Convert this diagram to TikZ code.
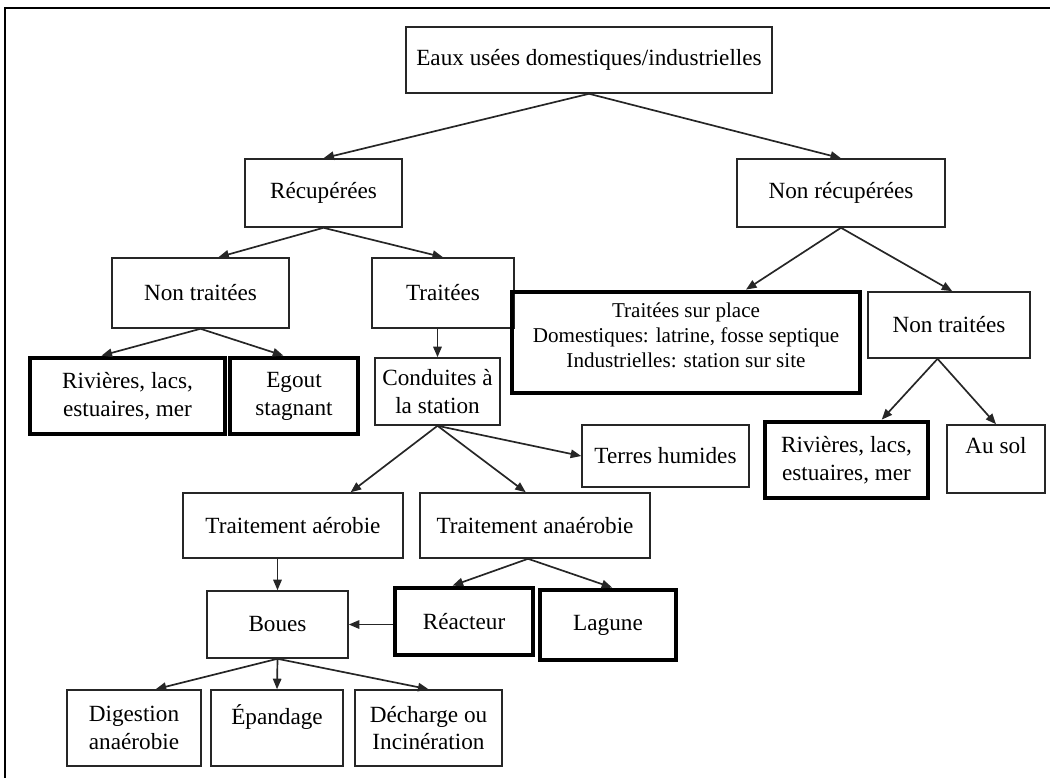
\documentclass[tikz,border=0pt]{standalone}
\usepackage{fontspec}
\setmainfont{Liberation Serif}
\usetikzlibrary{arrows.meta,calc}
\begin{document}
\begin{tikzpicture}[x=0.025cm,y=-0.025cm,
  box/.style={draw=black!85, line width=1.1pt, inner sep=0pt, align=center,
    font=\fontsize{16.5}{19.8}\selectfont, text=black},
  heavy/.style={box, draw=black, line width=3.4pt},
  link/.style={draw=black!85, line width=1.2pt, -{Triangle[length=7.5pt,width=6pt]}},
  frame/.style={draw=black, line width=1.4pt}]
\useasboundingbox (0,0) rectangle (1050,778);
% outer frame
\draw[frame] (1050,8) -- (5,8) -- (5,778);

% first level
\node[box, minimum width=9.15cm, minimum height=1.65cm] (top) at (589,60) {Eaux usées domestiques/industrielles};
\node[box, minimum width=3.925cm, minimum height=1.7cm] (recup) at (323.5,193) {Récupérées};
\node[box, minimum width=5.2cm, minimum height=1.7cm] (nonrecup) at (841,193) {Non récupérées};

% recovered branch
\node[box, minimum width=4.425cm, minimum height=1.75cm] (ntL) at (200.5,293) {Non traitées};
\node[box, minimum width=3.55cm, minimum height=1.75cm] (traitees) at (443,293) {Traitées};
\node[heavy, minimum width=4.875cm, minimum height=1.9cm] (rivL) at (127.5,396) {Rivières, lacs,\\estuaires, mer};
\node[heavy, minimum width=3.2cm, minimum height=1.9cm] (egout) at (294,396) {Egout\\stagnant};
\node[box, minimum width=3.125cm, minimum height=1.675cm] (conduites) at (437.5,391.5) {Conduites à\\la station};
\node[box, minimum width=4.175cm, minimum height=1.55cm] (terres) at (665.5,456) {Terres humides};
\node[box, minimum width=5.5cm, minimum height=1.625cm] (aer) at (293,525.5) {Traitement aérobie};
\node[box, minimum width=5.75cm, minimum height=1.625cm] (anaer) at (535,525.5) {Traitement anaérobie};
\node[box, minimum width=3.525cm, minimum height=1.675cm] (boues) at (277.5,624.5) {Boues};
\node[heavy, minimum width=3.45cm, minimum height=1.675cm] (reacteur) at (464,621.5) {Réacteur};
\node[heavy, minimum width=3.4cm, minimum height=1.75cm] (lagune) at (608,625) {Lagune};
\node[box, minimum width=3.35cm, minimum height=1.9cm] (digestion) at (134,728) {Digestion\\anaérobie};
\node[box, minimum width=3.3cm, minimum height=1.9cm] (epandage) at (277,728) {Épandage\\\mbox{}};
\node[box, minimum width=3.675cm, minimum height=1.9cm] (decharge) at (428.5,728) {Décharge ou\\Incinération};

% non-recovered branch
\node[heavy, minimum width=8.7cm, minimum height=2.525cm, font=\fontsize{15}{17.8}\selectfont] (tsp) at (686,342.5)
  {Traitées sur place\\Domestiques: latrine, fosse septique\\Industrielles: station sur site\\[-7.2pt]\mbox{}};
\node[box, minimum width=4.05cm, minimum height=1.65cm] (ntR) at (949,325) {Non traitées};
\node[heavy, minimum width=4.075cm, minimum height=1.9cm] (rivR) at (846.5,460) {Rivières, lacs,\\estuaires, mer};
\node[box, minimum width=2.45cm, minimum height=1.7cm] (ausol) at (996,459) {Au sol\\\mbox{}};

% connectors
\draw[link] (top.south) -- (recup.north);
\draw[link] (top.south) -- (nonrecup.north);
\draw[link] (recup.south) -- ($(ntL.north west)!0.6!(ntL.north east)$);
\draw[link] (recup.south) -- (traitees.north);
\draw[link] (ntL.south) -- ($(rivL.north west)!0.37!(rivL.north east)$);
\draw[link] (ntL.south) -- ($(egout.north west)!0.42!(egout.north east)$);
\draw[link] (conduites.north |- traitees.south) -- (conduites.north);
\draw[link] (conduites.south) -- ($(aer.north west)!0.76!(aer.north east)$);
\draw[link] (conduites.south) -- ($(anaer.north west)!0.46!(anaer.north east)$);
\draw[link] (conduites.south) -- (terres.west);
\draw[link] (nonrecup.south) -- ($(tsp.north west)!0.67!(tsp.north east)$);
\draw[link] (nonrecup.south) -- ($(ntR.north west)!0.52!(ntR.north east)$);
\coordinate (ntRfoot) at ($(ntR.south west)!0.43!(ntR.south east)$);
\draw[link] (ntRfoot) -- ($(rivR.north west)!0.71!(rivR.north east)$);
\draw[link] (ntRfoot) -- (ausol.north);
\draw[link] (boues.north |- aer.south) -- (boues.north);
\draw[link] ($(anaer.south west)!0.47!(anaer.south east)$) -- ($(reacteur.north west)!0.42!(reacteur.north east)$);
\draw[link] ($(anaer.south west)!0.47!(anaer.south east)$) -- ($(lagune.north west)!0.53!(lagune.north east)$);
\draw[link] (reacteur.west |- boues.east) -- (boues.east);
\draw[link] (boues.south) -- ($(digestion.north west)!0.66!(digestion.north east)$);
\draw[link] (boues.south) -- (epandage.north);
\draw[link] (boues.south) -- (decharge.north);
\end{tikzpicture}
\end{document}
